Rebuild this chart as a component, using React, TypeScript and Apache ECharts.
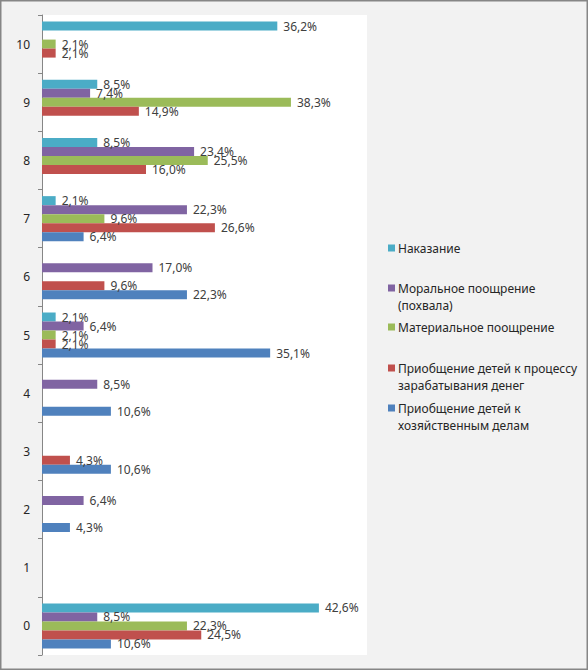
import React, { useEffect, useRef } from "react";
import * as echarts from "echarts";

const CATEGORIES = ["0", "1", "2", "3", "4", "5", "6", "7", "8", "9", "10"];

const SERIES_NAMES = [
  "Наказание",
  "Моральное поощрение (похвала)",
  "Материальное поощрение",
  "Приобщение детей к процессу зарабатывания денег",
  "Приобщение детей к хозяйственным делам",
];

const LEGEND_LINES = [
  "Наказание",
  "Моральное поощрение\n(похвала)",
  "Материальное поощрение",
  "Приобщение детей к процессу\nзарабатывания денег",
  "Приобщение детей к\nхозяйственным делам",
];

const COLORS = ["#4BACC6", "#8064A2", "#9BBB59", "#C0504D", "#4F81BD"];

// values by category 0..10
const PUNISHMENT = [42.6, null, null, null, null, 2.1, null, 2.1, 8.5, 8.5, 36.2];
const MORAL = [8.5, null, 6.4, null, 8.5, 6.4, 17.0, 22.3, 23.4, 7.4, null];
const MATERIAL = [22.3, null, null, null, null, 2.1, null, 9.6, 25.5, 38.3, 2.1];
const EARNING = [24.5, null, null, 4.3, null, 2.1, 9.6, 26.6, 16.0, 14.9, 2.1];
const HOUSEHOLD = [10.6, null, 4.3, 10.6, 10.6, 35.1, 22.3, 6.4, null, null, null];

const SERIES_DATA = [PUNISHMENT, MORAL, MATERIAL, EARNING, HOUSEHOLD];

const LEGEND_Y = [248, 288, 327, 368, 408];

const FONT = "'Noto Sans', 'DejaVu Sans', sans-serif";

export default function App() {
  const ref = useRef<HTMLDivElement>(null);

  useEffect(() => {
    document.body.style.margin = "0";
    if (!ref.current) return;
    const chart = echarts.init(ref.current, null, { renderer: "svg" });

    const legendGraphics: any[] = [];
    LEGEND_LINES.forEach((txt, i) => {
      legendGraphics.push({
        type: "rect",
        shape: { x: 388, y: LEGEND_Y[i] - 3.5, width: 7, height: 7 },
        style: { fill: COLORS[i] },
      });
      legendGraphics.push({
        type: "text",
        x: 398,
        y: LEGEND_Y[i] - 8.5,
        style: {
          text: txt,
          fill: "#262626",
          font: `12px ${FONT}`,
          lineHeight: 17,
          verticalAlign: "top",
        },
      });
    });

    chart.setOption({
      animation: false,
      backgroundColor: "#F2F2F2",
      textStyle: { fontFamily: FONT },
      grid: {
        left: 42,
        right: 221,
        top: 15,
        bottom: 15,
        show: true,
        backgroundColor: "#FFFFFF",
        borderWidth: 0,
      },
      xAxis: {
        type: "value",
        min: 0,
        max: 50,
        show: false,
        splitLine: { show: false },
      },
      yAxis: {
        type: "category",
        data: CATEGORIES,
        axisLine: { show: true, lineStyle: { color: "#868686", width: 1 } },
        axisTick: { show: true, length: 4, lineStyle: { color: "#868686" } },
        axisLabel: { color: "#262626", fontSize: 12, margin: 12, fontFamily: FONT },
      },
      series: SERIES_NAMES.map((name, i) => ({
        name,
        type: "bar",
        data: SERIES_DATA[i],
        barWidth: 9,
        barGap: "0%",
        itemStyle: { color: COLORS[i] },
        label: {
          show: true,
          position: "right",
          distance: 6,
          color: "#404040",
          fontSize: 12,
          fontFamily: FONT,
          formatter: (p: any) =>
            p.value == null ? "" : Number(p.value).toFixed(1).replace(".", ",") + "%",
        },
      })),
      graphic: [
        {
          type: "rect",
          shape: { x: 0.75, y: 0.75, width: 586.5, height: 668.5 },
          style: { fill: "none", stroke: "#868686", lineWidth: 1.5 },
          z: 100,
        },
        ...legendGraphics,
      ],
    });

    return () => chart.dispose();
  }, []);

  return <div ref={ref} style={{ width: 588, height: 670 }} />;
}
